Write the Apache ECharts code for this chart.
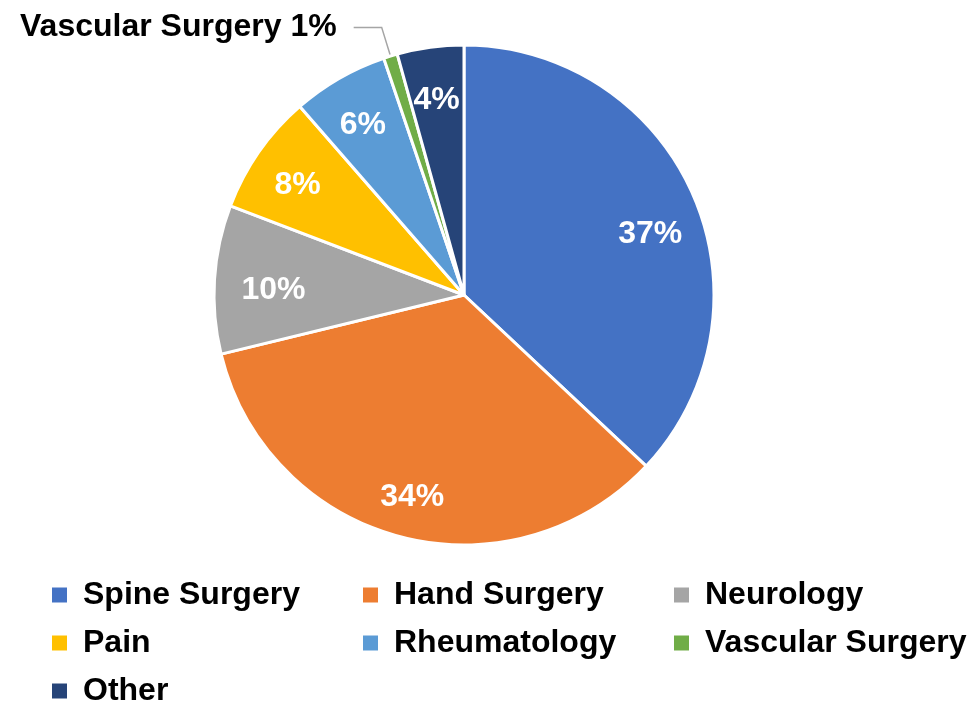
<!DOCTYPE html>
<html>
<head>
<meta charset="utf-8">
<script src="https://cdn.jsdelivr.net/npm/echarts@6/dist/echarts.min.js"></script>
<style>
  html, body { margin: 0; padding: 0; background: #fff; }
  #main { width: 969px; height: 704px; }
</style>
</head>
<body>
<div id="main"></div>
<script>
// data
var categories = ['Spine Surgery', 'Hand Surgery', 'Neurology', 'Pain', 'Rheumatology', 'Vascular Surgery', 'Other'];
var shares = [37.0, 34.2, 9.6, 7.8, 6.2, 0.9, 4.3];
var colors = ['#4472C4', '#ED7D31', '#A5A5A5', '#FFC000', '#5B9BD5', '#70AD47', '#264478'];
var outsideLabelName = 'Vascular Surgery';

var font = "'Liberation Sans', Arial, sans-serif";

function pct(p) {
    return Math.round(p.percent) + '%';
}

// main pie: slices, only the tiny slice gets an outside label
var mainData = categories.map(function (name, i) {
    var item = { name: name, value: shares[i], itemStyle: { color: colors[i] } };
    if (name === outsideLabelName) {
        item.label = {
            show: true,
            position: 'outside',
            formatter: function (p) { return p.name + ' ' + pct(p); },
            color: '#000',
            fontSize: 32,
            fontWeight: 'bold',
            fontFamily: font,
            distanceToLabelLine: 17
        };
        item.labelLine = {
            show: true,
            length: 30,
            length2: 28,
            lineStyle: { color: '#A5A5A5', width: 1.5 }
        };
    }
    return item;
});

// overlay ring just to put the percent labels at ~0.8 radius
var labelData = categories.map(function (name, i) {
    var item = { name: name, value: shares[i] };
    if (name === outsideLabelName) item.label = { show: false };
    if (i === 0) item.label = { offset: [0, 20] };
    if (i === 2) item.label = { offset: [12, 8] };
    return item;
});

var myChart = echarts.init(document.getElementById('main'));

var legendBase = {
    orient: 'vertical',
    top: 579,
    height: 150,
    padding: 0,
    icon: 'rect',
    itemWidth: 17,
    itemHeight: 17,
    itemGap: 16,
    selectedMode: false,
    textStyle: {
        color: '#000',
        fontSize: 32,
        fontWeight: 'bold',
        fontFamily: font,
        lineHeight: 32,
        padding: [0, 0, 0, 10]
    }
};

function legendCol(left, names) {
    return Object.assign({}, legendBase, { left: left, data: names });
}

myChart.setOption({
    animation: false,
    legend: [
        legendCol(50, [categories[0], categories[3], categories[6]]),
        legendCol(361, [categories[1], categories[4]]),
        legendCol(672, [categories[2], categories[5]])
    ],
    series: [
        {
            name: 'slices',
            type: 'pie',
            center: [464, 295],
            radius: [0, 250],
            startAngle: 90,
            clockwise: true,
            avoidLabelOverlap: false,
            itemStyle: { borderColor: '#fff', borderWidth: 3 },
            label: { show: false },
            labelLine: { show: false },
            emphasis: { disabled: true },
            data: mainData
        },
        {
            name: 'labels',
            type: 'pie',
            center: [464, 295],
            radius: [150, 250],
            startAngle: 90,
            clockwise: true,
            silent: true,
            legendHoverLink: false,
            itemStyle: { color: 'rgba(0,0,0,0)', borderWidth: 0 },
            label: {
                show: true,
                position: 'inside',
                formatter: pct,
                offset: [0, 6],
                color: '#fff',
                fontSize: 32,
                fontWeight: 'bold',
                fontFamily: font
            },
            labelLine: { show: false },
            emphasis: { disabled: true },
            data: labelData
        }
    ]
});
</script>
</body>
</html>
